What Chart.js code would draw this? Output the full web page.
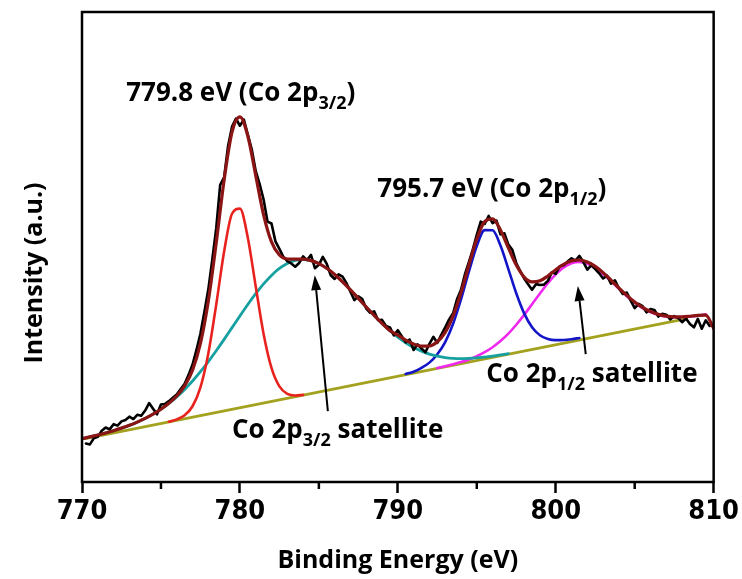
<!DOCTYPE html>
<html>
<head>
<meta charset="utf-8">
<script src="https://cdn.jsdelivr.net/npm/chart.js@4.4.1/dist/chart.umd.min.js"></script>
<style>
html,body{margin:0;padding:0;background:#fff;}
#wrap{width:742px;height:579px;position:relative;}
</style>
</head>
<body>
<div id="wrap"><canvas id="c"></canvas></div>
<script>
// ---- measured spectrum (black) ----
const rawEnergy = [
770.25,770.5,770.75,771,771.25,771.5,771.75,772,
772.25,772.5,772.75,773,773.25,773.5,773.75,774,
774.25,774.5,774.75,775,775.25,775.5,775.75,776,
776.25,776.5,776.75,777,777.25,777.5,777.75,778,
778.25,778.5,778.75,779,779.25,779.5,779.75,780,
780.25,780.5,780.75,781,781.25,781.5,781.75,782,
782.25,782.5,782.75,783,783.25,783.5,783.75,784,
784.25,784.5,784.75,785,785.25,785.5,785.75,786,
786.25,786.5,786.75,787,787.25,787.5,787.75,788,
788.25,788.5,788.75,789,789.25,789.5,789.75,790,
790.25,790.5,790.75,791,791.25,791.5,791.75,792,
792.25,792.5,792.75,793,793.25,793.5,793.75,794,
794.25,794.5,794.75,795,795.25,795.5,795.75,796,
796.25,796.5,796.75,797,797.25,797.5,797.75,798,
798.25,798.5,798.75,799,799.25,799.5,799.75,800,
800.25,800.5,800.75,801,801.25,801.5,801.75,802,
802.25,802.5,802.75,803,803.25,803.5,803.75,804,
804.25,804.5,804.75,805,805.25,805.5,805.75,806,
806.25,806.5,806.75,807,807.25,807.5,807.75,808,
808.25,808.5,808.75,809,809.25,809.5,809.75];
const rawIntensity = [
8.2,8.0,9.3,9.6,10.9,11.6,11.2,12.3,
12.0,12.9,13.2,13.9,13.4,14.3,14.1,15.2,
16.8,15.6,14.4,16.5,16.6,17.2,17.9,18.6,
19.8,20.9,22.8,25.0,28.1,31.6,36.2,41.0,
47.3,54.0,63.2,64.8,71.5,75.6,77.3,75.8,
77.1,73.9,70.8,66.2,63.4,60.1,55.4,55.0,
51.2,49.6,47.9,47.0,46.5,45.8,46.6,48.0,
47.2,48.3,45.5,46.2,47.9,46.4,44.0,43.2,
44.2,43.7,42.3,40.5,38.7,39.5,38.9,36.9,
36.0,36.3,34.4,34.5,33.2,32.9,31.2,32.3,
31.0,29.7,30.3,28.1,29.3,28.4,27.6,29.4,
30.9,29.6,31.3,32.9,34.6,35.9,38.9,40.9,
44.2,46.8,49.5,52.6,55.4,54.9,56.6,55.1,
55.6,52.7,52.9,50.5,49.4,46.6,44.9,43.3,
42.1,40.9,42.1,41.9,42.0,42.8,44.6,44.3,
45.9,46.1,46.9,47.6,47.1,48.1,46.8,45.2,
46.1,45.3,44.4,43.3,43.9,42.2,42.9,41.2,
40.0,40.3,38.6,37.0,37.9,37.4,36.1,36.8,
36.6,35.2,35.8,35.6,34.6,35.3,34.9,34.0,
34.8,33.6,32.9,34.7,32.6,34.4,33.2];

// ---- fitted envelope (dark red) ----
const fitEnergy = [
770,770.5,771,771.5,772,772.5,773,773.5,774,774.5,
775,775.5,776,776.5,777,777.5,778,778.5,779,779.5,
780,780.5,781,781.5,782,782.5,783,783.5,784,784.5,
785,785.5,786,786.5,787,787.5,788,788.5,789,789.5,
790,790.5,791,791.5,792,792.5,793,793.5,794,794.5,
795,795.5,796,796.5,797,797.5,798,798.5,799,799.5,
800,800.5,801,801.5,802,802.5,803,803.5,804,804.5,
805,805.5,806,806.5,807,807.5,808,808.5,809,809.5,810];
const envelope = [
9.20,9.59,10.00,10.44,10.92,11.46,12.05,12.74,13.53,14.44,
15.49,16.75,18.30,20.45,23.81,29.48,38.51,50.87,64.24,74.44,
77.69,73.62,65.25,56.85,51.08,48.29,47.45,47.41,47.40,47.11,
46.47,45.47,44.15,42.60,40.88,39.07,37.23,35.45,33.75,32.20,
31.27,30.18,29.36,28.90,28.94,29.83,31.84,35.33,40.25,46.11,
51.69,55.42,55.99,53.64,49.82,46.16,43.61,42.57,42.80,43.84,
45.15,46.31,47.04,47.23,46.81,45.87,44.54,42.96,41.30,39.71,
38.30,37.14,36.26,35.66,35.30,35.15,35.14,35.27,35.46,35.50,32.70];

// ---- Co 2p3/2 main peak (red) ----
const p32Energy = [775.5,776,776.5,777,777.5,778,778.5,779,779.5,780,780.5,781,781.5,782,782.5,783,783.5,784];
const p32Intensity = [12.83,13.32,14.21,16.12,20.15,27.36,37.75,49.03,57.07,58.16,51.99,41.65,31.50,24.26,20.34,18.77,18.42,18.54];

// ---- Co 2p3/2 satellite (teal) ----
const s32Energy = [
770,770.5,771,771.5,772,772.5,773,773.5,774,774.5,
775,775.5,776,776.5,777,777.5,778,778.5,779,779.5,
780,780.5,781,781.5,782,782.5,783,783.5,784,784.5,
785,785.5,786,786.5,787,787.5,788,788.5,789,789.5,
790,790.5,791,791.5,792,792.5,793,793.5,794,794.5,
795,795.5,796,796.5,797];
const s32Intensity = [
9.20,9.59,10.00,10.44,10.92,11.46,12.05,12.74,13.53,14.44,
15.49,16.71,18.10,19.70,21.48,23.46,25.61,27.92,30.34,32.84,
35.33,37.77,40.07,42.16,43.96,45.43,46.49,47.14,47.34,47.11,
46.47,45.47,44.15,42.60,40.88,39.07,37.23,35.45,33.75,32.20,
30.82,29.63,28.63,27.84,27.21,26.77,26.47,26.31,26.25,26.30,
26.40,26.58,26.79,27.04,27.31];

// ---- Co 2p1/2 main peak (blue) ----
const p12Energy = [790.5,791,791.5,792,792.5,793,793.5,794,794.5,795,795.5,796,796.5,797,797.5,798,798.5,799,799.5,800,800.5,801,801.5];
const p12Intensity = [23.00,23.45,24.30,25.40,27.19,29.78,33.68,38.85,44.77,50.23,53.60,53.56,50.32,45.31,40.15,35.87,32.92,31.22,30.42,30.18,30.22,30.39,30.64];

// ---- Co 2p1/2 satellite (magenta) ----
const s12Energy = [
792.5,793,793.5,794,794.5,795,795.5,796,796.5,797,
797.5,798,798.5,799,799.5,800,800.5,801,801.5,802,
802.5,803,803.5,804,804.5,805,805.5,806,806.5,807,
807.5,808,808.5,809,809.5];
const s12Intensity = [
24.23,24.61,25.04,25.51,26.08,26.76,27.62,28.68,30.00,31.58,
33.46,35.55,37.82,40.11,42.29,44.17,45.63,46.52,46.80,46.45,
45.57,44.28,42.74,41.10,39.54,38.15,37.01,36.14,35.55,35.20,
35.06,35.06,35.20,35.40,35.66];

// ---- background (olive) ----
const bgEnergy = [770.2, 808.3];
const bgIntensity = [9.23, 34.76];

// ---- axis ----
const xTicks = [770, 780, 790, 800, 810];
const xMinorTicks = [775, 785, 795, 805];

// ---- annotations (data coordinates) ----
const labelTexts = [
  {x: 772.8, y: 81.1, parts: [['779.8 eV (Co 2p','n'],['3/2','s'],[')','n']]},
  {x: 788.7, y: 60.6, parts: [['795.7 eV (Co 2p','n'],['1/2','s'],[')','n']]},
  {x: 779.5, y: 9.36, parts: [['Co 2p','n'],['3/2','s'],[' satellite','n']]},
  {x: 795.6, y: 21.3, parts: [['Co 2p','n'],['1/2','s'],[' satellite','n']]}
];
const arrows = [
  {x0: 785.57, y0: 15.1, x1: 784.74, y1: 44.0},
  {x0: 801.9, y0: 27.2, x1: 801.4, y1: 41.7}
];

const pts = (E, I) => E.map((x, i) => ({x: x, y: I[i]}));
const FONT = '"Open Sans", "DejaVu Sans", sans-serif';
const NUMFONT = '"Liberation Sans Narrow", "DejaVu Sans Condensed", "Open Sans", sans-serif';

const annot = {
  id: 'annot',
  afterDraw(chart) {
    const {ctx, chartArea: a, scales: {x, y}} = chart;
    ctx.save();
    ctx.strokeStyle = '#000';
    ctx.fillStyle = '#000';
    ctx.lineWidth = 2.5;
    xMinorTicks.forEach(v => {
      const px = x.getPixelForValue(v);
      ctx.beginPath(); ctx.moveTo(px, a.bottom); ctx.lineTo(px, a.bottom + 7); ctx.stroke();
    });
    ctx.lineWidth = 2.5;
    ctx.strokeRect(a.left, a.top, a.right - a.left, a.bottom - a.top);
    arrows.forEach(ar => {
      const X0 = x.getPixelForValue(ar.x0), Y0 = y.getPixelForValue(ar.y0);
      const X1 = x.getPixelForValue(ar.x1), Y1 = y.getPixelForValue(ar.y1);
      const ang = Math.atan2(Y1 - Y0, X1 - X0);
      const L = 15, W = 5;
      const bx = X1 - L * Math.cos(ang), by = Y1 - L * Math.sin(ang);
      ctx.lineWidth = 2;
      ctx.beginPath(); ctx.moveTo(X0, Y0); ctx.lineTo(bx, by); ctx.stroke();
      ctx.beginPath();
      ctx.moveTo(X1, Y1);
      ctx.lineTo(bx + W * Math.sin(ang), by - W * Math.cos(ang));
      ctx.lineTo(bx - W * Math.sin(ang), by + W * Math.cos(ang));
      ctx.closePath(); ctx.fill();
    });
    const size = 26;
    ctx.textBaseline = 'alphabetic';
    ctx.textAlign = 'left';
    labelTexts.forEach(lb => {
      let cx = x.getPixelForValue(lb.x);
      const by = y.getPixelForValue(lb.y);
      lb.parts.forEach(([t, k]) => {
        const s = k === 's' ? Math.round(size * 0.68) : size;
        ctx.font = 'bold ' + s + 'px ' + FONT;
        ctx.fillText(t, cx, by + (k === 's' ? 8 : 0));
        cx += ctx.measureText(t).width;
      });
    });
    ctx.font = 'bold 25px ' + FONT;
    ctx.textAlign = 'center';
    ctx.textBaseline = 'middle';
    ctx.translate(a.left - 47, 273);
    ctx.rotate(-Math.PI / 2);
    ctx.fillText('Intensity (a.u.)', 0, 0);
    ctx.restore();
  }
};

const line = (label, data, color, width, order, extra) => Object.assign({
  label, data, borderColor: color, backgroundColor: color, borderWidth: width,
  pointRadius: 0, fill: false, order, cubicInterpolationMode: 'monotone',
  borderJoinStyle: 'round', borderCapStyle: 'round'
}, extra || {});

new Chart(document.getElementById('c'), {
  type: 'line',
  data: {
    datasets: [
      line('Envelope', pts(fitEnergy, envelope), '#8b1414', 3.2, 1),
      line('Measured', pts(rawEnergy, rawIntensity), '#000000', 2.6, 2, {cubicInterpolationMode: 'default', tension: 0}),
      line('Co 2p3/2', pts(p32Energy, p32Intensity), '#e8231f', 2.6, 3),
      line('Co 2p3/2 sat.', pts(s32Energy, s32Intensity), '#16a0a0', 2.8, 4),
      line('Co 2p1/2', pts(p12Energy, p12Intensity), '#1414c8', 2.6, 5),
      line('Co 2p1/2 sat.', pts(s12Energy, s12Intensity), '#f028f0', 2.6, 6),
      line('Background', pts(bgEnergy, bgIntensity), '#a3a21e', 2.6, 7, {cubicInterpolationMode: 'default', tension: 0})
    ]
  },
  options: {
    responsive: true,
    maintainAspectRatio: false,
    animation: false,
    devicePixelRatio: 1,
    layout: {padding: {left: 0, right: 23, top: 12, bottom: 0}},
    plugins: {legend: {display: false}, tooltip: {enabled: false}},
    scales: {
      x: {
        type: 'linear', min: 770, max: 810,
        afterFit(s) { s.height = 97; },
        afterBuildTicks(s) { s.ticks = xTicks.map(v => ({value: v})); },
        ticks: {color: '#000', padding: 3, font: {family: NUMFONT, size: 27, weight: 'bold'}, maxRotation: 0},
        grid: {display: true, drawOnChartArea: false, drawTicks: true, tickLength: 11, tickWidth: 2.5, tickColor: '#000'},
        border: {display: false},
        title: {display: true, text: 'Binding Energy (eV)', color: '#000', font: {family: FONT, size: 25, weight: 'bold'}, padding: {top: 0, bottom: 3}}
      },
      y: {
        type: 'linear', min: 0, max: 100,
        afterFit(s) { s.width = 82; },
        ticks: {display: false},
        grid: {display: false},
        border: {display: false}
      }
    }
  },
  plugins: [annot]
});
</script>
</body>
</html>
